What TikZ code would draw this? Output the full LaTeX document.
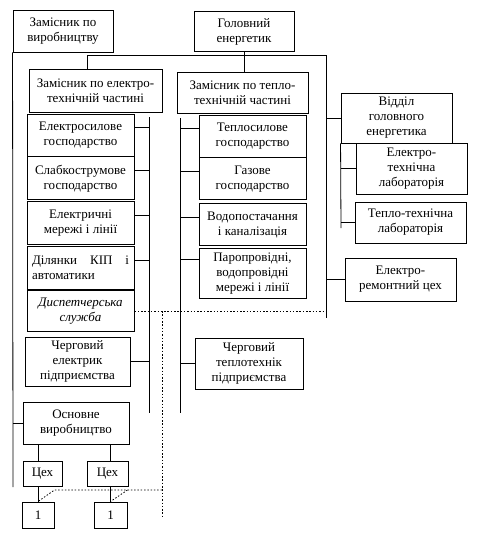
\documentclass[tikz,border=0pt]{standalone}
\usepackage{fontspec}
\setmainfont{Liberation Serif}
\usetikzlibrary{positioning}

\tikzset{
  unit/.style={draw, line width=0.9pt, inner sep=0pt, align=center,
    font=\fontsize{13}{15}\selectfont},
  slant/.style={font=\fontsize{13}{15}\selectfont\itshape},
  boxdim/.style 2 args={minimum width=#1pt, minimum height=#2pt},
  link/.style={line width=0.8pt},
  dots/.style={line width=0.8pt, dash pattern=on 1.5pt off 1.8pt},
}

\begin{document}
\begin{tikzpicture}[x=1pt,y=-1pt]
  \useasboundingbox (0,0) rectangle (487,547);

  % top level
  \node[unit, boxdim={100}{42}] (zv) at (63,31) {Замісник по\\виробництву};
  \node[unit, boxdim={100}{40}] (ge) at (244,31.5) {Головний\\енергетик};
  \node[unit, boxdim={133}{43}] (zet) at (95.5,90.5) {Замісник по електро-\\технічній частині};
  \node[unit, boxdim={131}{41}] (ztt) at (242.5,92.5) {Замісник по тепло-\\технічній частині};

  % electro column
  \node[unit, boxdim={107}{42}] (es) at (80.5,135) {Електросилове\\господарство};
  \node[unit, boxdim={107}{43}, below=0pt of es] (ss) {Слабкострумове\\господарство};
  \node[unit, boxdim={107}{43}, below=1pt of ss] (em) {Електричні\\мережі і лінії};
  \node[unit, boxdim={107}{43}, below=1pt of em, text width=97pt, align=left] (dk)
    {Ділянки\hfill КІП\hfill і\\автоматики};
  \node[unit, slant, boxdim={107}{41}, below=0pt of dk] (ds) {Диспетчерська\\служба};
  \node[unit, boxdim={105}{49}] (ce) at (77.5,361.5) {Черговий\\електрик\\підприємства};
  \node[unit, boxdim={106}{42}] (ov) at (76,423) {Основне\\виробництво};
  \node[unit, boxdim={39}{25}] (cx1) at (42.5,473.5) {Цех};
  \node[unit, boxdim={41}{25}] (cx2) at (107.5,473.5) {Цех};
  \node[unit, boxdim={32}{26}] (n1) at (38,515) {1};
  \node[unit, boxdim={33}{26}] (n2) at (110.5,515) {1};

  % teplo column
  \node[unit, boxdim={107}{42}] (ts) at (252.5,136) {Теплосилове\\господарство};
  \node[unit, boxdim={107}{42}, below=0pt of ts] (gs) {Газове\\господарство};
  \node[unit, boxdim={107}{42}, below=3pt of gs] (vk) {Водопостачання\\і каналізація};
  \node[unit, boxdim={107}{50}, below=2pt of vk] (pv) {Паропровідні,\\водопровідні\\мережі і лінії};
  \node[unit, boxdim={108}{51}] (ct) at (249,363.5) {Черговий\\теплотехнік\\підприємства};

  % right side
  \node[unit, boxdim={111}{50}] (vge) at (396.5,118) {Відділ\\головного\\енергетика};
  \node[unit, boxdim={111}{51}] (etl) at (411.5,168.5) {Електро-\\технічна\\лабораторія};
  \node[unit, boxdim={111}{41}] (ttl) at (410.5,222.5) {Тепло-технічна\\лабораторія};
  \node[unit, boxdim={111}{43}] (erc) at (400.5,279.5) {Електро-\\ремонтний цех};

  \coordinate (lend) at (13,487);
  \coordinate (tl) at (87,55);
  \coordinate (tr) at (326,55);
  \coordinate (rend) at (326,318);
  \coordinate (labend) at (341,228);
  \coordinate (etop) at (149,117);
  \coordinate (ebot) at (149,413);
  \coordinate (ttop) at (180,118);
  \coordinate (tbot) at (180,413);
  \coordinate (dv) at (162,517);
  \coordinate (dh) at (162,490);

  \draw[link] (zv.south west) -- (lend);
  \draw[link] (ov.west) -- (ov.west -| lend);
  \draw[link] (tl |- zet.north) -- (tl) -- (tr) -- (rend);
  \draw[link] (ge.south) -- (ge.south |- ztt.north);
  \draw[link] (vge.west) -- (vge.west -| tr);
  \draw[link] (erc.west) -- (erc.west -| tr);
  \draw[link] (vge.south west) -- (labend);
  \draw[link] (etl.west) -- (etl.west -| labend);
  \draw[link] (ttl.west) -- (ttl.west -| labend);

  \draw[link] (etop) -- (ebot);
  \foreach \nd in {es,ss,em,dk}
    \draw[link] (\nd.8) -- (\nd.8 -| etop);
  \draw[link] (ce.east) -- (ce.east -| etop);

  \draw[link] (ttop) -- (tbot);
  \foreach \nd in {ts,gs,vk}
    \draw[link] (\nd.172) -- (\nd.172 -| ttop);
  \draw[link] (pv.165) -- (pv.165 -| ttop);
  \draw[link] (ct.west) -- (ct.west -| ttop);

  % shops
  \draw[link] (n1.north |- ov.south) -- (n1.north |- cx1.north);
  \draw[link] (n2.north |- ov.south) -- (n2.north |- cx2.north);
  \draw[link] (n1.north |- cx1.south) -- (n1.north);
  \draw[link] (n2.north |- cx2.south) -- (n2.north);

  % dotted links
  \draw[dots] (ds.east) -- (ds.east -| tr);
  \draw[dots] (dv |- ds.east) -- (dv);
  \draw[dots] (dh) -- (dh -| n1.north east) -- (n1.north);
  \draw[dots] (dh -| n2.north east) -- (n2.north);
\end{tikzpicture}
\end{document}
